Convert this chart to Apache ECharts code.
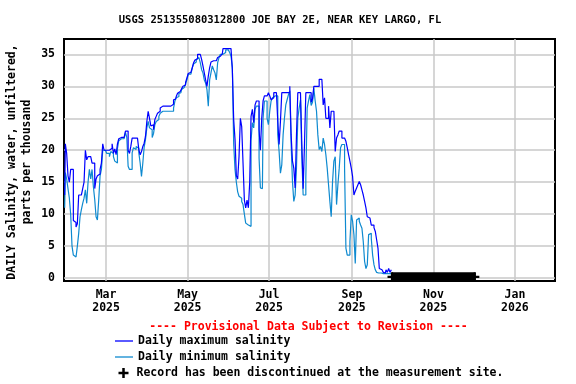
<!DOCTYPE html>
<html><head><meta charset="utf-8">
<script src="https://cdn.jsdelivr.net/npm/echarts@6/dist/echarts.min.js"></script>
<style>html,body{margin:0;padding:0;background:#fff}#c{width:576px;height:384px}</style>
</head><body><div id="c"></div>
<script>
// first daily value: 2025-01-29 (year, monthIndex, day)
const startDate = [2025, 0, 29];
const dailyMax = [
13,21,19.5,16,15,17,17,9,8.7,8,
8.5,13,13,13,14,15,20,18.5,19,19,
18.8,18,18,14,15.5,16,16.3,17,18,21,
20,20,20,20,20,20.3,21,19.5,20.2,19.3,
21,21.8,22,22,22,22,23,23,20,19.5,
20.6,21.9,21.9,21.9,21.9,21.6,20.1,19.3,19.8,20.6,
21.1,22.2,24.5,26.1,25,23.8,24,23.2,24.8,25.3,
25.8,26.1,26.6,26.9,26.9,26.9,26.9,26.9,26.9,26.9,
26.9,27.2,27.9,28,28.4,28.9,29.2,29.2,29.6,30,
30.2,30.6,31.3,32,32.2,32.4,32.9,33.7,34.1,34.3,
35,35,34.7,34.2,33.2,32.1,31,30,31.6,32.9,
33.8,34,34,34,34,34.5,34.7,35,35.1,35.9,
35.9,35.9,35.9,35.9,35.9,35.9,32.6,24.8,21.7,16,
15.5,19,25,23.7,18,12.2,11,12.2,11,15,
25.3,26.4,24.3,27.1,27.7,27.7,23.2,20,25,27.7,
28.5,28.5,28.8,29,28.5,27.9,28.2,29,29,29,
24.5,20.9,24.5,29,29,29,29,29,29,30,
22.4,18.3,17.2,14.1,22.4,29,29,29,21,14,
20.9,29,29,29,29,27.5,28,30,30,30,
30,31.1,31.1,31.1,27.1,28.2,25,25,26.9,23.5,
26.1,26.1,26.1,19.8,21.9,22.4,23,23,21.9,21.9,
21.9,21.4,20.4,19.3,18.3,17.2,15.9,13,13.6,14.1,
14.6,15.1,14.6,13.8,13,12,11,9.6,9.4,9.1,
8.3,8.3,7.9,7.3,6,4.7,1.5,1.3,1.3,0.9,
0.8,1.3,0.9,1.5,0.9,1.3
];
const dailyMin = [
11,16.5,15.5,14,12.5,10,5,3.6,3.3,3.3,
5,7,9.6,10.7,11.7,12.5,13.8,11.7,15,17,
15.5,17,14.3,12.3,9.6,9.1,12.3,16,17,20,
20,20,19.5,19.5,19,19.8,19.5,19,18.3,18,
20.3,21.5,21.8,21.8,21.8,21.5,22.8,22,17.5,17,
17,19.6,20.4,20.1,20.6,20.3,19.6,18,15.9,18,
20.5,21.7,23.5,24.5,23.5,23.2,22,22.6,24,24.5,
24.8,25.3,25.8,26.1,26.1,26.1,26.1,26.1,26.1,26.1,
26.1,26.1,26.6,27.7,28.2,28.4,28.9,29,29.5,29.8,
30.1,30.4,31,31.9,31.9,32.2,32.9,33.5,33.8,34.2,
34.5,34.5,33.7,32.6,32.1,31,30.5,29.5,26.9,31,
32.1,33.2,32.6,32.1,31,33.7,34.5,35,35,35.3,
35.3,35.7,35.7,35.7,35.3,34.7,33,21,17,15,
13.5,12.8,12.5,12,11.5,10,8.6,8.3,8.1,8.1,
21.5,24.3,23.5,26.4,26.9,26.9,18.8,14.1,14,25,
27.7,27.7,25,24,26.1,27.7,28.2,28.5,28.5,28.5,
22.4,19.8,16.4,17.7,22.4,25,27.1,27.9,28.7,29.3,
21,15.1,12,13,17.2,25,26.6,27.9,19,13,
13,15.6,26.6,27.7,28.7,27,27.5,29.7,27.7,26.1,
22.4,20.1,20.6,19.8,21.9,20.9,19.3,17.2,14.6,12,
9.6,15.1,18.3,19,11.5,14.6,17.2,20.4,20.9,20.9,
17.2,4.7,3.6,3.6,5.7,9.9,8.9,6.8,2.3,9.1,
9.4,8.9,8.3,7.8,5.7,2.6,1.5,2.1,6.8,7,
6.2,3.6,2.1,1.3,0.9,0.8,0.8,0.8,0.8,0.7,
0.7,0.7,0.7,0.7,0.7,0.7
];
const discDates = ['2025-10-01', '2025-12-02'];
const discValues = [0.2, 0.2];
const xTickDates = ['2025-03-01','2025-05-01','2025-07-01','2025-09-01','2025-11-01','2026-01-01'];
const yTicks = [0,5,10,15,20,25,30,35];
const monthNames = ['Jan','Feb','Mar','Apr','May','Jun','Jul','Aug','Sep','Oct','Nov','Dec'];
const seriesNames = ['Daily maximum salinity','Daily minimum salinity','Record has been discontinued at the measurement site.'];

function toTime(s){const p=s.split('-').map(Number);return new Date(p[0],p[1]-1,p[2]).getTime();}
function dayTime(i){return new Date(startDate[0],startDate[1],startDate[2]+i).getTime();}
const maxData = dailyMax.map((v,i)=>[dayTime(i),v]);
const minData = dailyMin.map((v,i)=>[dayTime(i),v]);
const discData = discDates.map((d,i)=>[toTime(d),discValues[i]]);
const xTicks = xTickDates.map(toTime);
const plusPath = 'path://M3,0H5V3H8V5H5V8H3V5H0V3H3Z';
const FONT = '"DejaVu Sans Mono", monospace';
const txt = {fontFamily:FONT,fontWeight:'bold',fontSize:11.5,color:'#000'};

const chart = echarts.init(document.getElementById('c'));
chart.setOption({
  animation:false,
  backgroundColor:'#fff',
  grid:{left:64,right:21,top:39,bottom:103,show:true,borderColor:'#000',borderWidth:2,backgroundColor:'transparent'},
  xAxis:{type:'value',min:toTime('2025-01-28')+12*3600e3,max:toTime('2026-01-31'),
    axisLine:{show:false},
    axisTick:{show:false,customValues:xTicks},
    axisLabel:Object.assign({customValues:xTicks,margin:8,lineHeight:12.7,hideOverlap:false,
      formatter:(v)=>{const d=new Date(v);return monthNames[d.getMonth()]+'\n'+d.getFullYear();}},txt),
    splitLine:{show:true,lineStyle:{color:'#c8c8c8',width:1.5}}
  },
  yAxis:{type:'value',min:-0.45,max:37.4,
    axisLine:{show:false},
    axisTick:{show:false,customValues:yTicks},
    axisLabel:Object.assign({customValues:yTicks,margin:9},txt),
    splitLine:{show:true,lineStyle:{color:'#c8c8c8',width:1.5}}
  },
  legend:[
    {orient:'vertical',left:115,top:334,padding:0,itemWidth:18,itemHeight:1.3,itemGap:2,icon:'rect',
     selectedMode:false,data:[seriesNames[0],seriesNames[1]],textStyle:Object.assign({lineHeight:14},txt)},
    {orient:'vertical',left:118.5,top:366,padding:0,itemWidth:16,itemHeight:10,itemGap:2,
     selectedMode:false,data:[{name:seriesNames[2],icon:plusPath,itemStyle:{color:'#000',borderWidth:0}}],
     textStyle:Object.assign({lineHeight:14},txt)}
  ],
  graphic:[
    {type:'text',x:280,y:20.5,style:{text:'USGS 251355080312800 JOE BAY 2E, NEAR KEY LARGO, FL',font:'bold 10.5px '+FONT,fill:'#000',align:'center',verticalAlign:'middle',textAlign:'center',textVerticalAlign:'middle'}},
    {type:'text',x:308.5,y:326.7,style:{text:'---- Provisional Data Subject to Revision ----',font:'bold 11.5px '+FONT,fill:'#ff0000',align:'center',verticalAlign:'middle',textAlign:'center',textVerticalAlign:'middle'}},
    {type:'text',x:12,y:162,rotation:Math.PI/2,style:{text:'DAILY Salinity, water, unfiltered,',font:'bold 11.5px '+FONT,fill:'#000',align:'center',verticalAlign:'middle',textAlign:'center',textVerticalAlign:'middle'}},
    {type:'text',x:27,y:162,rotation:Math.PI/2,style:{text:'parts per thousand',font:'bold 11.5px '+FONT,fill:'#000',align:'center',verticalAlign:'middle',textAlign:'center',textVerticalAlign:'middle'}}
  ],
  series:[
    {name:seriesNames[1],type:'line',data:minData,symbol:'none',step:'middle',lineStyle:{color:'#0e8ad0',width:1.2},itemStyle:{color:'#0e8ad0'},z:2},
    {name:seriesNames[0],type:'line',data:maxData,symbol:'none',step:'middle',lineStyle:{color:'#0000ff',width:1.2},itemStyle:{color:'#0000ff'},z:3},
    {name:seriesNames[2],type:'line',data:discData,symbol:plusPath,symbolSize:9,showSymbol:true,showAllSymbol:true,lineStyle:{color:'#000',width:9},itemStyle:{color:'#000'},z:4}
  ]
});
</script></body></html>
